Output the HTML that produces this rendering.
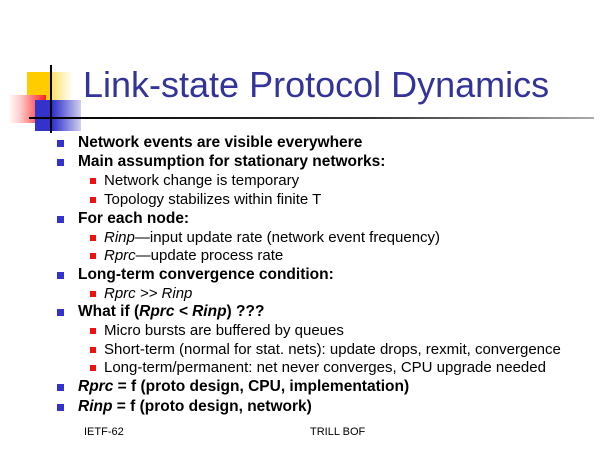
<!DOCTYPE html>
<html><head><style>
body{margin:0;width:600px;height:450px;background:#fff;position:relative;overflow:hidden;font-family:"Liberation Sans",sans-serif;}
.t{position:absolute;left:83px;top:64px;font-size:36px;color:#333399;white-space:nowrap;}
.l1,.l2{position:absolute;white-space:nowrap;line-height:18px;}
.l1{left:78px;font-size:15.5px;font-weight:bold;color:#000;}
.l2{left:104px;font-size:15px;color:#000;}
.l1:before{content:"";position:absolute;left:-21px;top:6px;width:7px;height:7px;background:#3333cc;}
.l2:before{content:"";position:absolute;left:-14px;top:6px;width:6px;height:6px;background:#ee1111;}
.f{position:absolute;top:426px;font-size:11px;}
.l2 i{font-weight:normal}
</style></head><body>
<div style="position:absolute;left:27px;top:72px;width:24px;height:28px;background:#ffcc00"></div>
<div style="position:absolute;left:51px;top:72px;width:22px;height:28px;background:linear-gradient(90deg,#ffe066,#fff)"></div>
<div style="position:absolute;left:8px;top:95px;width:38px;height:28px;background:linear-gradient(270deg,#ff2020,#ffd0d0 70%,#fff)"></div>
<div style="position:absolute;left:35px;top:100px;width:18px;height:31px;background:#3333cc"></div>
<div style="position:absolute;left:53px;top:100px;width:28px;height:31px;background:linear-gradient(90deg,#3333cc,#d0d0f0)"></div>
<div style="position:absolute;left:50px;top:65px;width:2px;height:68px;background:#000"></div>
<div style="position:absolute;left:29px;top:117px;width:565px;height:2px;background:linear-gradient(90deg,#000,#333 60%,#aaa)"></div>
<div class="t">Link-state Protocol Dynamics</div>
<div class="l1" style="top:134px">Network events are visible everywhere</div>
<div class="l1" style="top:153px">Main assumption for stationary networks:</div>
<div class="l2" style="top:172px">Network change is temporary</div>
<div class="l2" style="top:191px">Topology stabilizes within finite T</div>
<div class="l1" style="top:210px">For each node:</div>
<div class="l2" style="top:229px"><i>Rinp</i>—input update rate (network event frequency)</div>
<div class="l2" style="top:247px"><i>Rprc</i>—update process rate</div>
<div class="l1" style="top:266px">Long-term convergence condition:</div>
<div class="l2" style="top:285px"><i>Rprc &gt;&gt; Rinp</i></div>
<div class="l1" style="top:303px">What if (<i>Rprc &lt; Rinp</i>) ???</div>
<div class="l2" style="top:322px">Micro bursts are buffered by queues</div>
<div class="l2" style="top:341px">Short-term (normal for stat. nets): update drops, rexmit, convergence</div>
<div class="l2" style="top:359px">Long-term/permanent: net never converges, CPU upgrade needed</div>
<div class="l1" style="top:378px"><i>Rprc</i> = f (proto design, CPU, implementation)</div>
<div class="l1" style="top:398px"><i>Rinp</i> = f (proto design, network)</div>
<div class="f" style="left:84px">IETF-62</div>
<div class="f" style="left:310px">TRILL BOF</div>
</body></html>
